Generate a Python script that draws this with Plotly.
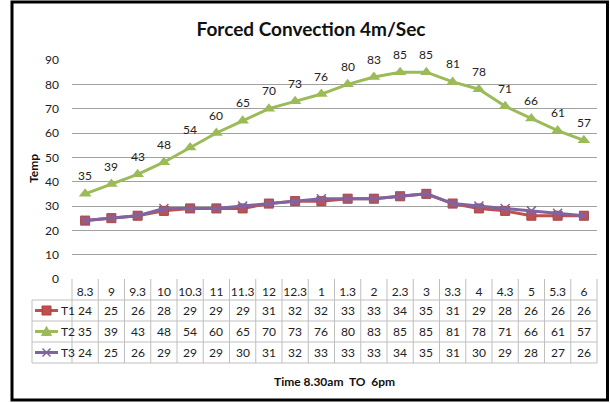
import plotly.graph_objects as go

categories = ["8.3", "9", "9.3", "10", "10.3", "11", "11.3", "12", "12.3", "1",
              "1.3", "2", "2.3", "3", "3.3", "4", "4.3", "5", "5.3", "6"]
t1 = [24, 25, 26, 28, 29, 29, 29, 31, 32, 32, 33, 33, 34, 35, 31, 29, 28, 26, 26, 26]
t2 = [35, 39, 43, 48, 54, 60, 65, 70, 73, 76, 80, 83, 85, 85, 81, 78, 71, 66, 61, 57]
t3 = [24, 25, 26, 29, 29, 29, 30, 31, 32, 33, 33, 33, 34, 35, 31, 30, 29, 28, 27, 26]
series_names = ["T1", "T2", "T3"]
y_ticks = [0, 10, 20, 30, 40, 50, 60, 70, 80, 90]

RED, GREEN, PURPLE = "#C0504D", "#9BBB59", "#8064A2"
W, H = 610, 403
L, R, T, B = 72, 13, 60, 124
PW, PH = W - L - R, H - T - B
FONT = "Lato, Liberation Sans, Arial, sans-serif"
SMALL = "Lato, Liberation Sans, Arial, sans-serif"
TXT = "#222"


def px(xp):
    return (xp - L) / PW


def py(yp):
    return (H - B - yp) / PH


idx = list(range(len(categories)))

fig = go.Figure()
fig.add_trace(go.Scatter(x=idx, y=t1, name="T1", mode="lines+markers",
                         line=dict(color=RED, width=3),
                         marker=dict(symbol="square", size=9, color=RED,
                                     line=dict(color="#A8423F", width=1))))
fig.add_trace(go.Scatter(x=idx, y=t2, name="T2", mode="lines+markers",
                         line=dict(color=GREEN, width=3),
                         marker=dict(symbol="triangle-up", size=11, color=GREEN)))
fig.add_trace(go.Scatter(x=idx, y=t3, name="T3", mode="lines+markers",
                         line=dict(color=PURPLE, width=3),
                         marker=dict(symbol="x-thin-open", size=9, color=PURPLE,
                                     line=dict(color=PURPLE, width=1.5))))

annotations = []
for i, v in zip(idx, t2):
    annotations.append(dict(x=i, y=v, xref="x", yref="y", text=str(v), showarrow=False,
                            yshift=18, font=dict(family=SMALL, size=12, color=TXT)))

row_centers = [310.5, 331.5, 352.5]
for name, vals, yc in zip(series_names, [t1, t2, t3], row_centers):
    for i, v in zip(idx, vals):
        annotations.append(dict(x=i, y=py(yc), xref="x", yref="paper", text=str(v),
                                showarrow=False, yanchor="middle",
                                font=dict(family=SMALL, size=12, color=TXT)))
    annotations.append(dict(x=px(58.5), y=py(yc), xref="paper", yref="paper", text=name,
                            showarrow=False, xanchor="left", yanchor="middle",
                            font=dict(family=SMALL, size=12, color=TXT)))

annotations.append(dict(x=0.5, y=py(381), xref="paper", yref="paper",
                        text="<b>Time 8.30am  TO  6pm</b>", showarrow=False,
                        yanchor="middle", font=dict(family=FONT, size=12, color="#111")))
annotations.append(dict(x=px(33), y=py(169), xref="paper", yref="paper",
                        text="<b>Temp</b>", showarrow=False, textangle=-90,
                        xanchor="center", yanchor="middle",
                        font=dict(family=SMALL, size=12, color="#111")))

shapes = []
GRID = "#BFBFBF"
for yl in [300, 321, 342, 363]:
    shapes.append(dict(type="line", xref="paper", yref="paper", x0=px(32), x1=1,
                       y0=py(yl), y1=py(yl), line=dict(color=GRID, width=1)))
shapes.append(dict(type="line", xref="paper", yref="paper", x0=px(32), x1=px(32),
                   y0=py(300), y1=py(363), line=dict(color=GRID, width=1)))
n = len(categories)
for i in range(n + 1):
    shapes.append(dict(type="line", xref="paper", yref="paper", x0=i / n, x1=i / n,
                       y0=py(279), y1=py(363), line=dict(color=GRID, width=1)))

for color, yc, kind in zip([RED, GREEN, PURPLE], row_centers, ["sq", "tri", "x"]):
    shapes.append(dict(type="line", xref="paper", yref="paper", x0=px(35), x1=px(58),
                       y0=py(yc), y1=py(yc), line=dict(color=color, width=3)))
    cx = 46.5
    if kind == "sq":
        shapes.append(dict(type="rect", xref="paper", yref="paper", x0=px(cx - 4.5),
                           x1=px(cx + 4.5), y0=py(yc + 4.5), y1=py(yc - 4.5),
                           fillcolor=color, line=dict(color="#A8423F", width=1)))
    elif kind == "tri":
        path = "M {} {} L {} {} L {} {} Z".format(px(cx - 5), py(yc + 4), px(cx + 5),
                                                  py(yc + 4), px(cx), py(yc - 5))
        shapes.append(dict(type="path", xref="paper", yref="paper", path=path,
                           fillcolor=color, line=dict(color=color, width=1)))
    else:
        path = "M {} {} L {} {} M {} {} L {} {}".format(px(cx - 4), py(yc - 4), px(cx + 4),
                                                        py(yc + 4), px(cx - 4), py(yc + 4),
                                                        px(cx + 4), py(yc - 4))
        shapes.append(dict(type="path", xref="paper", yref="paper", path=path,
                           line=dict(color=color, width=1.5)))

shapes.append(dict(type="rect", xref="paper", yref="paper", x0=px(12), x1=px(607.5),
                   y0=py(400), y1=py(2), line=dict(color="black", width=3)))

fig.update_layout(
    width=W, height=H, margin=dict(l=L, r=R, t=T, b=B),
    paper_bgcolor="white", plot_bgcolor="white", showlegend=False,
    title=dict(text="<b>Forced Convection 4m/Sec</b>", x=311 / W, xref="container",
               xanchor="center", y=1 - 29 / H, yref="container", yanchor="middle",
               font=dict(family=FONT, size=19, color="#111")),
    xaxis=dict(range=[-0.5, n - 0.5], tickvals=idx, ticktext=categories,
               showgrid=False, zeroline=False, showline=False, ticks="",
               ticklabelstandoff=4, tickfont=dict(family=SMALL, size=12, color=TXT)),
    yaxis=dict(range=[0, 90], tickvals=y_ticks, showgrid=True, gridcolor="#A0A0A0",
               gridwidth=1, zeroline=False, showline=False, ticks="",
               tickfont=dict(family=SMALL, size=12, color=TXT), ticklabelstandoff=12),
    annotations=annotations, shapes=shapes,
)

fig.write_html("out.html", config={"displayModeBar": False},
               post_script="document.body.style.margin='0';")
